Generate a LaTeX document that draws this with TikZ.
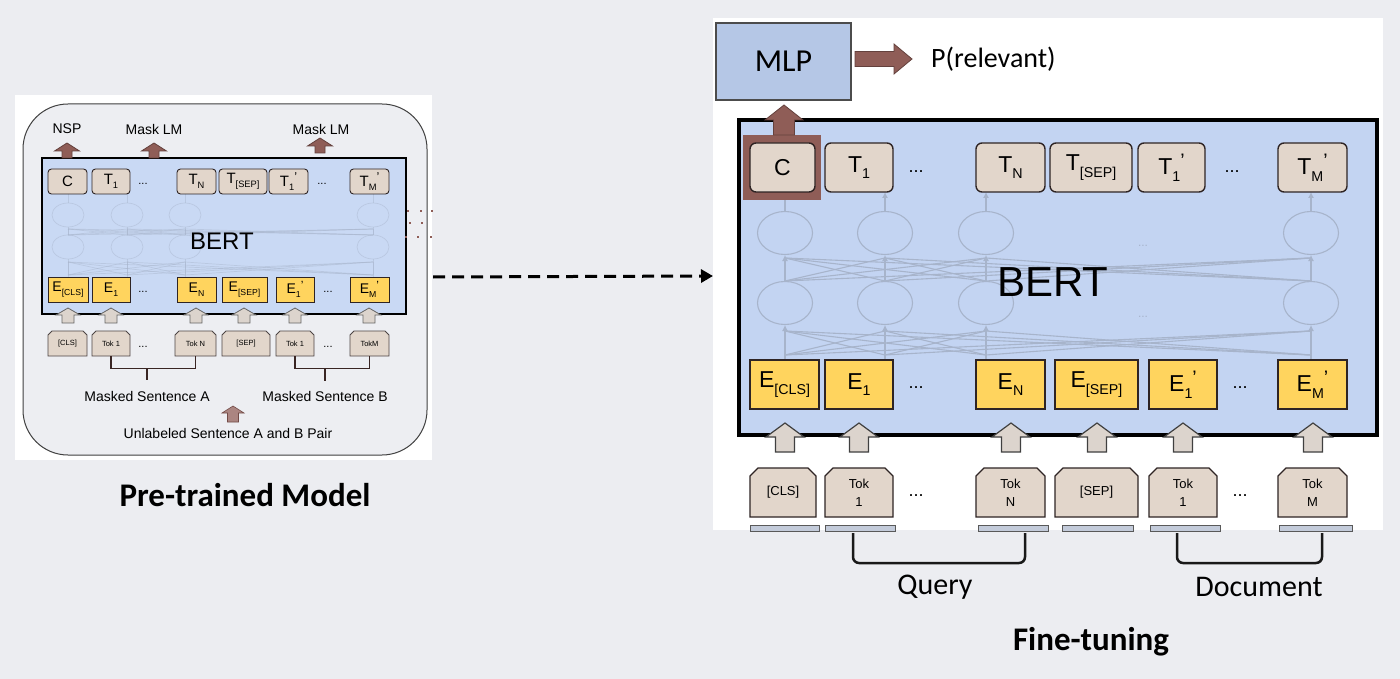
\documentclass[tikz,border=0pt]{standalone}
\usepackage{fontspec}
\usepackage{graphicx}
\setmainfont{Liberation Sans}
\newfontfamily\calfont{Carlito}
\usetikzlibrary{arrows.meta,calc}
\definecolor{bgc}{HTML}{ECEDF1}
\definecolor{bordc}{HTML}{2E2424}
\definecolor{tanc}{HTML}{E2D6CB}
\definecolor{yelc}{HTML}{FFD45E}
\definecolor{bluR}{HTML}{C3D4F2}
\definecolor{bluL}{HTML}{C9D9F4}
\definecolor{brownc}{HTML}{8F5D57}
\definecolor{grayar}{HTML}{DCD4CD}
\definecolor{netc}{HTML}{A7B4CB}
\definecolor{mlpc}{HTML}{B5C7E6}
\definecolor{roundc}{HTML}{EDEEF2}
\definecolor{smallc}{HTML}{C3CBDA}

\newcommand\sbs[2]{#1\raisebox{-0.28em}{\scalebox{0.62}{#2}}}
\newcommand\sbp[2]{#1\raisebox{-0.28em}{\scalebox{0.62}{#2}}\raisebox{0.32em}{\scalebox{0.85}{’}}}
\newcommand\bx[7]{\node[#1, minimum width={#4-#3}, minimum height={#6-#5}] (#2) at ({(#3+#4)/2},{(#5+#6)/2}) {#7};}
\newcommand\tk[8]{\draw[tok#1] (#3,#6) -- (#3,#5+#7) -- (#3+#7,#5) -- (#4-#7,#5) -- (#4,#5+#7) -- (#4,#6) -- cycle;
 \node[tok#1t, minimum width={#4-#3}, minimum height={#6-#5}] (#2) at ({(#3+#4)/2},{(#5+#6)/2}) {#8};}
\newcommand\blockup[7]{\draw[#7] (#1,#2) -- (#1+#5,#3) -- (#1+#6,#3) -- (#1+#6,#4) -- (#1-#6,#4) -- (#1-#6,#3) -- (#1-#5,#3) -- cycle;}
\newcommand\blockright[7]{\draw[#7] (#4,#1) -- (#3,#1-#5) -- (#3,#1-#6) -- (#2,#1-#6) -- (#2,#1+#6) -- (#3,#1+#6) -- (#3,#1+#5) -- cycle;}

\begin{document}
\begin{tikzpicture}[x=1pt,y=-1pt,
 tR/.style={draw=bordc, fill=tanc, line width=1.4pt, rounded corners=6pt, inner sep=0pt, font=\fontsize{23}{26}\selectfont},
 eR/.style={draw=bordc, fill=yelc, line width=1.4pt, inner sep=0pt, font=\fontsize{23}{26}\selectfont},
 tL/.style={draw=bordc, fill=tanc, line width=0.9pt, rounded corners=3.5pt, inner sep=0pt, font=\fontsize{15}{17}\selectfont},
 eL/.style={draw=bordc, fill=yelc, line width=0.8pt, inner sep=0pt, font=\fontsize{14}{16}\selectfont},
 tokR/.style={draw=bordc, fill=tanc, line width=1.3pt},
 tokRt/.style={inner sep=0pt, align=center, font=\fontsize{13}{18}\selectfont},
 tokL/.style={draw=bordc!85, fill=tanc, line width=0.9pt},
 tokLt/.style={inner sep=0pt, align=center, font=\fontsize{7.5}{9}\selectfont},
 grayarR/.style={draw=black!75, fill=grayar, line width=1.2pt},
 grayarL/.style={draw=black!60, fill=grayar, line width=0.8pt},
 brownar/.style={draw=brownc!70!black, fill=brownc, line width=0.8pt},
 dotsR/.style={font=\fontsize{18}{20}\selectfont, inner sep=0pt},
 dotsL/.style={font=\fontsize{11}{12}\selectfont, inner sep=0pt},
 netR/.style={draw=netc, line width=1.1pt},
 netL/.style={draw=netc, line width=0.7pt, opacity=0.45},
 bracketR/.style={draw=black!90, line width=2.5pt, rounded corners=6pt},
 bracketL/.style={draw=black!60!brownc, line width=1.1pt},
 labR/.style={font=\calfont\fontsize{30}{32}\selectfont, inner sep=0pt},
 labL/.style={font=\fontsize{14}{16}\selectfont, inner sep=0pt},
 titleb/.style={font=\calfont\bfseries\fontsize{33}{36}\selectfont, inner sep=0pt},
]
\useasboundingbox (0,0) rectangle (1400,679);
\fill[bgc] (0,0) rectangle (1400,679);

% ================= LEFT PANEL =================
\fill[white] (15,95) rectangle (432,460);
\node[draw=black!75, line width=1pt, fill=roundc, rounded corners=45pt, minimum width=404, minimum height=351, inner sep=0pt] (lframe) at (225,279.5) {};
\bx{draw=black, line width=2.2pt, fill=bluL, inner sep=0pt}{lbert}{42}{406}{158}{314}{}

\foreach \ca in {68,127,185,373}{
 \foreach \cb in {68,127,185,373}{
  \draw[netL] (\ca,275) -- (\cb,262);
  \draw[netL] (\ca,235) -- (\cb,229);
 }
 \draw[netL] (\ca,215) ellipse [x radius=16pt, y radius=12pt];
 \draw[netL] (\ca,247) ellipse [x radius=16pt, y radius=12pt];
 \draw[netL] (\ca,277) -- (\ca,259);
 \draw[netL] (\ca,235) -- (\ca,227);
 \draw[netL] (\ca,203) -- (\ca,194);
}
\node[font=\fontsize{24}{26}\selectfont, inner sep=0pt] (lberttxt) at (222,241) {BERT};

\bx{tL}{lc}{48}{87}{169}{194}{C}
\bx{tL}{lt1}{92}{130}{169}{194}{\sbs{T}{1}}
\bx{tL}{ltn}{177}{216}{169}{194}{\sbs{T}{N}}
\bx{tL}{ltsep}{219}{267}{169}{194}{\sbs{T}{[SEP]}}
\bx{tL}{lt1p}{269}{308}{169}{194}{\sbp{T}{1}}
\bx{tL}{ltmp}{350}{389}{169}{194}{\sbp{T}{M}}
\node[dotsL] (ldt1) at (143,184) {...};
\node[dotsL] (ldt2) at (322,184) {...};

\bx{eL}{le0}{48}{88}{277}{302}{\sbs{E}{[CLS]}}
\bx{eL}{le1}{92}{130}{277}{302}{\sbs{E}{1}}
\bx{eL}{len}{177}{216}{277}{302}{\sbs{E}{N}}
\bx{eL}{lesep}{222}{267}{277}{302}{\sbs{E}{[SEP]}}
\bx{eL}{le1p}{276}{314}{277}{302}{\sbp{E}{1}}
\bx{eL}{lemp}{350}{389}{277}{302}{\sbp{E}{M}}
\node[dotsL] (lde1) at (143,292) {...};
\node[dotsL] (lde2) at (328,292) {...};

\node[labL] (nsp) at (67,129) {NSP};
\node[labL] (mlm1) at (154,129) {Mask LM};
\node[labL] (mlm2) at (321,129) {Mask LM};
\blockup{67}{143}{151}{158}{12.5}{5}{brownar}
\blockup{154}{143}{151}{158}{12.5}{5}{brownar}
\blockup{320}{138}{146}{153}{12.5}{5}{brownar}

\foreach \ca in {68,111,196,244,295,369}{\blockup{\ca}{308}{315}{323}{12}{6}{grayarL}}

\tk{L}{lk0}{48}{87}{331}{356}{4}{[CLS]}
\tk{L}{lk1}{92}{130}{331}{356}{4}{Tok 1}
\tk{L}{lkn}{175}{216}{331}{356}{4}{Tok N}
\tk{L}{lksep}{222}{270}{331}{356}{4}{[SEP]}
\tk{L}{lk1p}{276}{314}{331}{356}{4}{Tok 1}
\tk{L}{lkm}{350}{389}{331}{356}{4}{TokM}
\node[dotsL] (ldk1) at (143,347) {...};
\node[dotsL] (ldk2) at (328,347) {...};

\draw[bracketL] (lk1.south) -- ++(0,12) -| (lkn.south);
\draw[bracketL] (lk1p.south) -- ++(0,12) -| (lkm.south);
\coordinate (lsa) at (147,368);
\coordinate (lsb) at (325,368);
\draw[bracketL] (lsa) -- ++(0,12);
\draw[bracketL] (lsb) -- ++(0,13);
\node[labL] (lmsa) at (147,396) {Masked Sentence A};
\node[labL] (lmsb) at (325,396) {Masked Sentence B};
\blockup{233}{406}{413}{422}{11}{5.5}{draw=brownc!80!black, fill=brownc!75, line width=0.6pt}
\node[labL] (lunl) at (228,433) {Unlabeled Sentence A and B Pair};

\foreach \p in {(408,211),(421,211),(432,211),(410,223),(422,223),(406,237),(418,237),(431,237)}
  \fill[brownc] \p +(-1.3,-1.3) rectangle +(1.3,1.3);

\node[titleb] (ptm) at (245,495) {Pre-trained Model};

% ================= DASHED ARROW =================
\coordinate (dsA) at (433,277);
\coordinate (dsB) at (713,276);
\draw[line width=3pt, dash pattern=on 12pt off 7pt, -{Triangle[length=12pt,width=13pt]}] (dsA) -- (dsB);

% ================= RIGHT PANEL =================
\fill[white] (713,18) rectangle (1383,530);
\bx{draw=black, line width=4pt, fill=bluR, inner sep=0pt}{rbert}{739}{1377}{120}{435}{}

\foreach \ca in {785,885,986,1311}{
 \foreach \cb in {785,885,986,1311}{
  \draw[netR] (\ca,355) -- (\cb,331);
  \draw[netR] (\ca,281) -- (\cb,258);
 }
 \draw[netR] (\ca,233) ellipse [x radius=27.5pt, y radius=21.5pt];
 \draw[netR] (\ca,303) ellipse [x radius=27.5pt, y radius=21.5pt];
 \draw[netR, -{Latex[length=6pt,width=6pt]}] (\ca,360) -- (\ca,325);
 \draw[netR, -{Latex[length=6pt,width=6pt]}] (\ca,281) -- (\ca,255);
 \draw[netR, -{Latex[length=6pt,width=6pt]}] (\ca,211) -- (\ca,192);
}
\node[text=netc, font=\fontsize{12}{12}\selectfont, inner sep=0pt] (rnd1) at (1143,246) {...};
\node[text=netc, font=\fontsize{12}{12}\selectfont, inner sep=0pt] (rnd2) at (1143,317) {...};
\node[font=\fontsize{42}{44}\selectfont, inner sep=0pt] (rberttxt) at (1053,282) {BERT};

\bx{fill=brownc, inner sep=0pt}{cframe}{743}{821}{135}{200}{}
\bx{tR}{rc}{750}{815}{143}{192}{C}
\bx{tR}{rt1}{825}{893}{143}{192}{\sbs{T}{1}}
\bx{tR}{rtn}{976}{1045}{143}{192}{\sbs{T}{N}}
\bx{tR}{rtsep}{1050}{1132}{143}{192}{\sbs{T}{[SEP]}}
\bx{tR}{rt1p}{1138}{1205}{143}{192}{\sbp{T}{1}}
\bx{tR}{rtmp}{1278}{1347}{143}{192}{\sbp{T}{M}}
\node[dotsR] (rdt1) at (916,172) {...};
\node[dotsR] (rdt2) at (1232,172) {...};

\bx{eR}{re0}{750}{819}{360}{409}{\sbs{E}{[CLS]}}
\bx{eR}{re1}{825}{893}{360}{409}{\sbs{E}{1}}
\bx{eR}{ren}{976}{1045}{360}{409}{\sbs{E}{N}}
\bx{eR}{resep}{1055}{1138}{360}{409}{\sbs{E}{[SEP]}}
\bx{eR}{re1p}{1149}{1217}{360}{409}{\sbp{E}{1}}
\bx{eR}{remp}{1278}{1347}{360}{409}{\sbp{E}{M}}
\node[dotsR] (rde1) at (916,388) {...};
\node[dotsR] (rde2) at (1240,388) {...};

\blockup{784}{105}{120}{135}{19}{10.5}{brownar}
\bx{draw=black!70, line width=1.5pt, fill=mlpc, inner sep=0pt, font=\calfont\fontsize{32}{34}\selectfont}{mlp}{716}{851}{23}{100}{MLP}
\blockright{59}{855}{894}{912}{15}{7.5}{brownar}
\node[anchor=west, font=\calfont\fontsize{28}{30}\selectfont, inner sep=0pt] (prel) at (931,59) {P(relevant)};

\foreach \ca in {785,859,1011,1097,1183,1313}{\blockup{\ca}{423}{437}{452}{19}{9.5}{grayarR}}

\tk{R}{rk0}{750}{816}{468}{517}{8}{[CLS]}
\tk{R}{rk1}{825}{893}{468}{517}{8}{Tok\\1}
\tk{R}{rkn}{976}{1045}{468}{517}{8}{Tok\\N}
\tk{R}{rksep}{1055}{1138}{468}{517}{8}{[SEP]}
\tk{R}{rk1p}{1149}{1217}{468}{517}{8}{Tok\\1}
\tk{R}{rkm}{1278}{1347}{468}{517}{8}{Tok\\M}
\node[dotsR] (rdk1) at (916,496) {...};
\node[dotsR] (rdk2) at (1240,496) {...};

\foreach \a/\b in {750/819,825/895,978/1048,1062/1133,1150/1220,1279/1352}
  \draw[draw=black!65, fill=smallc, line width=0.8pt] (\a,525) rectangle (\b,531);

\coordinate (qa) at (853,533);
\coordinate (qb) at (1025,533);
\coordinate (da) at (1177,533);
\coordinate (db) at (1322,533);
\draw[bracketR] (qa) -- ++(0,30) -| (qb);
\draw[bracketR] (da) -- ++(0,30) -| (db);
\node[labR] (query) at (935,587) {Query};
\node[labR] (doc) at (1259,587) {Document};

\node[titleb] (ft) at (1091,642) {Fine-tuning};
\end{tikzpicture}
\end{document}
